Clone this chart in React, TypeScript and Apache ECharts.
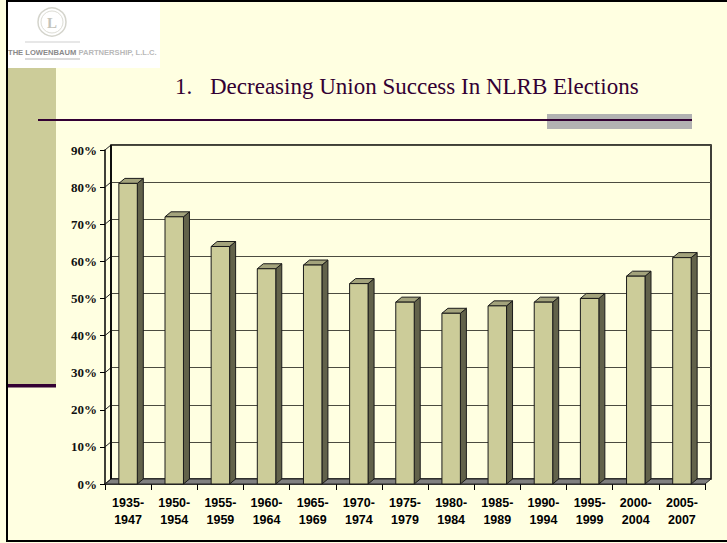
import React, { useEffect, useRef } from 'react';
import * as echarts from 'echarts';

const categories = ['1935-1947', '1950-1954', '1955-1959', '1960-1964', '1965-1969', '1970-1974', '1975-1979', '1980-1984', '1985-1989', '1990-1994', '1995-1999', '2000-2004', '2005-2007'];
const successRate = [81, 72, 64, 58, 59, 54, 49, 46, 48, 49, 50, 56, 61];
const yMin = 0;
const yMax = 90;
const yStep = 10;
const titleNumber = '1.';
const titleText = 'Decreasing Union Success In NLRB Elections';
const logoLeft = 'THE LOWENBAUM';
const logoRight = ' PARTNERSHIP, L.L.C.';

const DX = 6;
const DY = -5;
const CREAM = '#FFFFE1';
const OLIVE = '#CCCC99';
const PURPLE = '#330033';

export default function App() {
  const ref = useRef<HTMLDivElement>(null);

  useEffect(() => {
    const chart = echarts.init(ref.current as HTMLDivElement, null, { renderer: 'svg' });
    const yTicks: number[] = [];
    for (let t = yMin; t <= yMax; t += yStep) yTicks.push(t);

    const renderItem = (params: any, api: any) => {
      const i = api.value(0);
      const v = api.value(1);
      const cs = params.coordSys;
      const top = api.coord([i, v]);
      const base = api.coord([i, yMin]);
      const bw = api.size([1, 0])[0] * 0.4;
      const x0 = top[0] - bw / 2;
      const x1 = top[0] + bw / 2;
      const yt = top[1];
      const yb = base[1];
      const stroke = '#1a1a1a';
      const children: any[] = [];
      if (params.dataIndex === 0) {
        const fy = cs.y + cs.height;
        children.push({
          type: 'polygon',
          shape: { points: [[cs.x, fy], [cs.x + cs.width, fy], [cs.x + cs.width + DX, fy + DY], [cs.x + DX, fy + DY]] },
          style: { fill: '#808080', stroke: '#222', lineWidth: 1 },
        });
        yTicks.forEach((t) => {
          const ty = api.coord([0, t])[1];
          children.push({
            type: 'line',
            shape: { x1: cs.x, y1: ty, x2: cs.x + DX, y2: ty + DY },
            style: { stroke: '#222', lineWidth: 1 },
          });
        });
        children.push({
          type: 'line',
          shape: { x1: cs.x + DX, y1: cs.y + DY, x2: cs.x + DX, y2: fy + DY },
          style: { stroke: '#000', lineWidth: 1.5 },
        });
      }
      children.push({
        type: 'polygon',
        shape: { points: [[x1, yt], [x1 + DX, yt + DY], [x1 + DX, yb + DY], [x1, yb]] },
        style: { fill: '#62624A', stroke, lineWidth: 1 },
      });
      children.push({
        type: 'polygon',
        shape: { points: [[x0, yt], [x0 + DX, yt + DY], [x1 + DX, yt + DY], [x1, yt]] },
        style: { fill: '#A3A37C', stroke, lineWidth: 1 },
      });
      children.push({
        type: 'rect',
        shape: { x: x0, y: yt, width: bw, height: yb - yt },
        style: { fill: OLIVE, stroke, lineWidth: 1 },
      });
      return { type: 'group', children };
    };

    chart.setOption({
      animation: false,
      backgroundColor: CREAM,
      graphic: [
        { type: 'rect', z: 0, shape: { x: 8, y: 2, width: 152, height: 66 }, style: { fill: '#FFFFFF' } },
        { type: 'rect', z: 0, shape: { x: 8, y: 68, width: 48, height: 316 }, style: { fill: OLIVE } },
        { type: 'rect', z: 0, shape: { x: 8, y: 384, width: 48, height: 3.5 }, style: { fill: PURPLE } },
        { type: 'circle', z: 1, shape: { cx: 52, cy: 22, r: 14 }, style: { fill: 'none', stroke: '#D4D4CC', lineWidth: 1.5 } },
        { type: 'circle', z: 1, shape: { cx: 52, cy: 22, r: 11 }, style: { fill: 'none', stroke: '#DCDCD4', lineWidth: 1 } },
        { type: 'text', z: 1, x: 52, y: 23, style: { text: 'L', fill: '#C4C4BC', font: 'bold 15px "Liberation Serif"', align: 'center', verticalAlign: 'middle' } },
        { type: 'line', z: 1, shape: { x1: 25, y1: 42, x2: 80, y2: 42 }, style: { stroke: '#CFCFCF', lineWidth: 1 } },
        { type: 'line', z: 1, shape: { x1: 25, y1: 59, x2: 80, y2: 59 }, style: { stroke: '#CFCFCF', lineWidth: 1.5 } },
        {
          type: 'text', z: 1, x: 8, y: 52,
          style: {
            text: '{a|' + logoLeft + '}{b|' + logoRight + '}',
            verticalAlign: 'middle',
            rich: {
              a: { fill: '#8A8A8A', font: 'bold 7.6px "Liberation Sans"' },
              b: { fill: '#B8B8B8', font: 'bold 7.6px "Liberation Sans"' },
            },
          },
        },
        { type: 'text', z: 1, x: 175, y: 86, style: { text: titleNumber, fill: PURPLE, font: '23px "Liberation Serif"', verticalAlign: 'middle' } },
        { type: 'text', z: 1, x: 210, y: 86, style: { text: titleText, fill: PURPLE, font: '23px "Liberation Serif"', verticalAlign: 'middle' } },
        { type: 'rect', z: 1, shape: { x: 547, y: 114, width: 145, height: 15 }, style: { fill: '#B2B2B2' } },
        { type: 'line', z: 2, shape: { x1: 38, y1: 120, x2: 692, y2: 120 }, style: { stroke: PURPLE, lineWidth: 2 } },
        { type: 'rect', z: 100, shape: { x: 7, y: 1, width: 760, height: 540 }, style: { fill: 'none', stroke: '#000', lineWidth: 2 } },
      ],
      grid: [
        { left: 105 + DX, right: 22 - DX, top: 150 + DY, bottom: 59 - DY, show: true, borderColor: '#000', borderWidth: 1.5, backgroundColor: 'transparent' },
        { left: 105, right: 22, top: 150, bottom: 59 },
      ],
      xAxis: [
        { type: 'category', gridIndex: 0, data: categories, show: false },
        {
          type: 'category', gridIndex: 1, data: categories,
          axisLine: { show: true, lineStyle: { color: '#000', width: 1.5 } },
          axisTick: { show: true, interval: 0, length: 6, lineStyle: { color: '#000' } },
          axisLabel: {
            interval: 0, margin: 10, color: '#000',
            fontFamily: 'Liberation Sans', fontWeight: 'bold', fontSize: 12.5, lineHeight: 17,
            formatter: (v: string) => v.replace('-', '-\n'),
          },
          splitLine: { show: false },
        },
      ],
      yAxis: [
        {
          type: 'value', gridIndex: 0, min: yMin, max: yMax, interval: yStep,
          axisLine: { show: false }, axisTick: { show: false }, axisLabel: { show: false },
          splitLine: { show: true, lineStyle: { color: '#4C4C40', width: 1.2 } },
        },
        {
          type: 'value', gridIndex: 1, min: yMin, max: yMax, interval: yStep,
          axisLine: { show: true, lineStyle: { color: '#000', width: 1.5 } },
          axisTick: { show: true, length: 5, lineStyle: { color: '#000' } },
          axisLabel: {
            margin: 8, color: '#111', fontFamily: 'Liberation Serif', fontWeight: 'bold', fontSize: 13,
            formatter: '{value}%',
          },
          splitLine: { show: false },
        },
      ],
      series: [
        {
          type: 'custom',
          xAxisIndex: 1,
          yAxisIndex: 1,
          clip: false,
          renderItem,
          data: successRate.map((v, i) => [i, v]),
        },
      ],
    });

    return () => chart.dispose();
  }, []);

  return <div ref={ref} style={{ position: 'fixed', left: 0, top: 0, width: 727, height: 543 }} />;
}
